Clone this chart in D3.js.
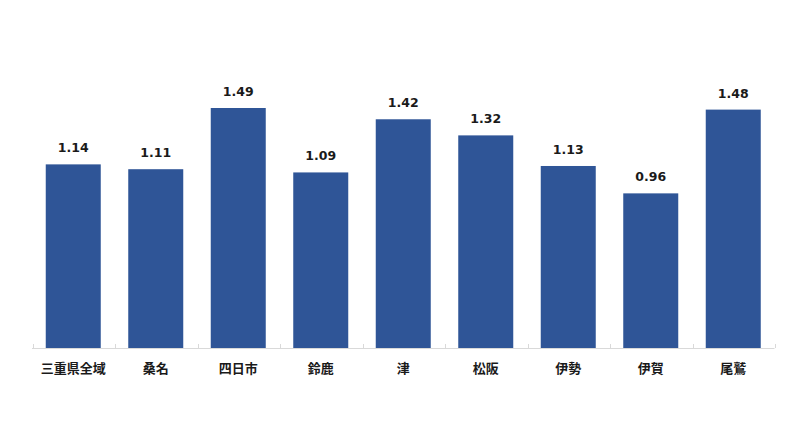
<!DOCTYPE html>
<html><head><meta charset="utf-8">
<script src="https://cdn.jsdelivr.net/npm/d3@7"></script>
<style>body{margin:0;background:#fff}</style>
</head><body>
<svg id="c" width="800" height="435"></svg>
<script>
const categories = ["三重県全域","桑名","四日市","鈴鹿","津","松阪","伊勢","伊賀","尾鷲"];
const values = [1.14,1.11,1.49,1.09,1.42,1.32,1.13,0.96,1.48];

const svg = d3.select("#c");
const x = d3.scaleBand().domain(categories).range([32, 774.5]).paddingInner(1/3).paddingOuter(1/6);
const y = d3.scaleLinear().domain([0, 1.49]).range([348, 108]);

// baseline
svg.append("line").attr("x1", 32).attr("x2", 774.5).attr("y1", 348.5).attr("y2", 348.5)
  .attr("stroke", "#d9d9d9").attr("stroke-width", 1);
// tick marks at band boundaries
const bounds = categories.map(c => x(c) - x.step()*x.paddingInner()/2 + 0.5).concat([774.5]);
svg.selectAll("line.tk").data(bounds).enter().append("line").attr("class","tk")
  .attr("x1", d => Math.round(d)+0.5).attr("x2", d => Math.round(d)+0.5)
  .attr("y1", 344).attr("y2", 348).attr("stroke", "#d9d9d9");

svg.selectAll("rect.bar").data(values).enter().append("rect").attr("class","bar")
  .attr("x", (d,i) => x(categories[i])).attr("width", x.bandwidth())
  .attr("y", d => y(d)).attr("height", d => y(0) - y(d))
  .attr("fill", "#2F5597");

svg.selectAll("text.val").data(values).enter().append("text").attr("class","val")
  .attr("x", (d,i) => x(categories[i]) + x.bandwidth()/2)
  .attr("y", d => y(d) - 12)
  .attr("text-anchor", "middle")
  .attr("font-family", "DejaVu Sans, Verdana, sans-serif")
  .attr("font-weight", "bold").attr("font-size", 12.5).attr("fill", "#1a1a1a")
  .text(d => d.toFixed(2));

svg.selectAll("text.cat").data(categories).enter().append("text").attr("class","cat")
  .attr("x", d => x(d) + x.bandwidth()/2)
  .attr("y", 373)
  .attr("text-anchor", "middle")
  .attr("font-family", "Noto Sans CJK JP, sans-serif")
  .attr("font-weight", "bold").attr("font-size", 13).attr("fill", "#1a1a1a")
  .text(d => d);
</script>
</body></html>
